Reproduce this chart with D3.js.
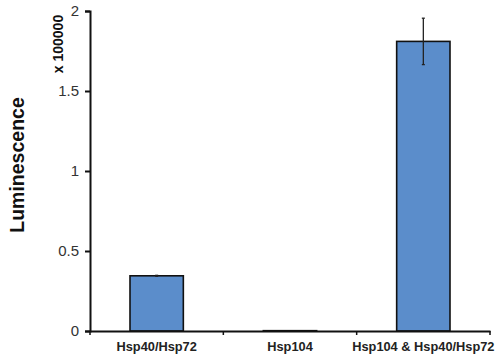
<!DOCTYPE html>
<html>
<head>
<meta charset="utf-8">
<script src="https://cdn.jsdelivr.net/npm/d3@7"></script>
<style>
  body { margin: 0; background: #fff; }
  svg { display: block; font-family: "Liberation Sans", Arial, sans-serif; }
</style>
</head>
<body>
<div id="chart"></div>
<script>
// data (units of 100000)
const categories = ['Hsp40/Hsp72', 'Hsp104', 'Hsp104 & Hsp40/Hsp72'];
const values = [0.345, 0.002, 1.81];
const errors = [0.003, 0, 0.145];
const yTicks = [0, 0.5, 1, 1.5, 2];

const width = 500, height = 363;
const margin = { top: 11, right: 10, bottom: 32, left: 90 };

const svg = d3.select('#chart').append('svg')
  .attr('width', width)
  .attr('height', height);

const x = d3.scaleBand()
  .domain(categories)
  .range([margin.left, width - margin.right]);

const y = d3.scaleLinear()
  .domain([0, 2])
  .range([height - margin.bottom, margin.top]);

const barW = x.bandwidth() * 0.4;

// bars
svg.selectAll('.bar')
  .data(categories)
  .enter()
  .append('rect')
  .attr('class', 'bar')
  .attr('x', d => x(d) + (x.bandwidth() - barW) / 2)
  .attr('y', (d, i) => y(values[i]))
  .attr('width', barW)
  .attr('height', (d, i) => y(0) - y(values[i]))
  .attr('fill', '#5b8dcb')
  .attr('stroke', '#111')
  .attr('stroke-width', 1.6);

// error bars
const eb = svg.selectAll('.err')
  .data(categories.filter((d, i) => errors[i] > 0))
  .enter()
  .append('g')
  .attr('class', 'err');

eb.append('line')
  .attr('x1', d => x(d) + x.bandwidth() / 2)
  .attr('x2', d => x(d) + x.bandwidth() / 2)
  .attr('y1', d => y(values[categories.indexOf(d)] + errors[categories.indexOf(d)]))
  .attr('y2', d => y(values[categories.indexOf(d)] - errors[categories.indexOf(d)]))
  .attr('stroke', '#222')
  .attr('stroke-width', 1.3);

eb.selectAll('.cap')
  .data(d => [-1, 1].map(s => ({ d, s })))
  .enter()
  .append('line')
  .attr('x1', o => x(o.d) + x.bandwidth() / 2 - 1.5)
  .attr('x2', o => x(o.d) + x.bandwidth() / 2 + 1.5)
  .attr('y1', o => y(values[categories.indexOf(o.d)] + o.s * errors[categories.indexOf(o.d)]))
  .attr('y2', o => y(values[categories.indexOf(o.d)] + o.s * errors[categories.indexOf(o.d)]))
  .attr('stroke', '#222')
  .attr('stroke-width', 1.3);

// y axis
const yAxis = svg.append('g')
  .attr('transform', `translate(${margin.left},0)`)
  .call(d3.axisLeft(y).tickValues(yTicks).tickSize(5).tickPadding(6).tickFormat(d3.format('')));
yAxis.select('.domain').attr('stroke', '#111').attr('stroke-width', 2);
yAxis.selectAll('.tick line').attr('stroke', '#111').attr('stroke-width', 2);
yAxis.selectAll('.tick text')
  .attr('font-size', 15)
  .attr('fill', '#333')
  .attr('font-family', '"Liberation Sans", Arial, sans-serif');

// x axis
const xAxis = svg.append('g')
  .attr('transform', `translate(0,${y(0)})`)
  .call(d3.axisBottom(x).tickSize(0).tickPadding(11));
xAxis.select('.domain').attr('stroke', '#111').attr('stroke-width', 2);
xAxis.selectAll('.tick text')
  .attr('font-size', 12.8)
  .attr('font-weight', 'bold')
  .attr('fill', '#222')
  .attr('font-family', '"Liberation Sans", Arial, sans-serif');

// category boundary ticks
const bounds = categories.map(d => x(d)).concat([x.range()[1]]);
svg.selectAll('.xb')
  .data(bounds)
  .enter()
  .append('line')
  .attr('x1', d => d).attr('x2', d => d)
  .attr('y1', y(0)).attr('y2', y(0) + 4)
  .attr('stroke', '#111')
  .attr('stroke-width', 1.5);

// axis titles
svg.append('text')
  .attr('transform', `translate(24,165) rotate(-90)`)
  .attr('text-anchor', 'middle')
  .attr('font-size', 19.5)
  .attr('font-weight', 'bold')
  .attr('fill', '#111')
  .text('Luminescence');

svg.append('text')
  .attr('transform', `translate(63,44) rotate(-90)`)
  .attr('text-anchor', 'middle')
  .attr('font-size', 14)
  .attr('font-weight', 'bold')
  .attr('fill', '#111')
  .text('x 100000');
</script>
</body>
</html>
